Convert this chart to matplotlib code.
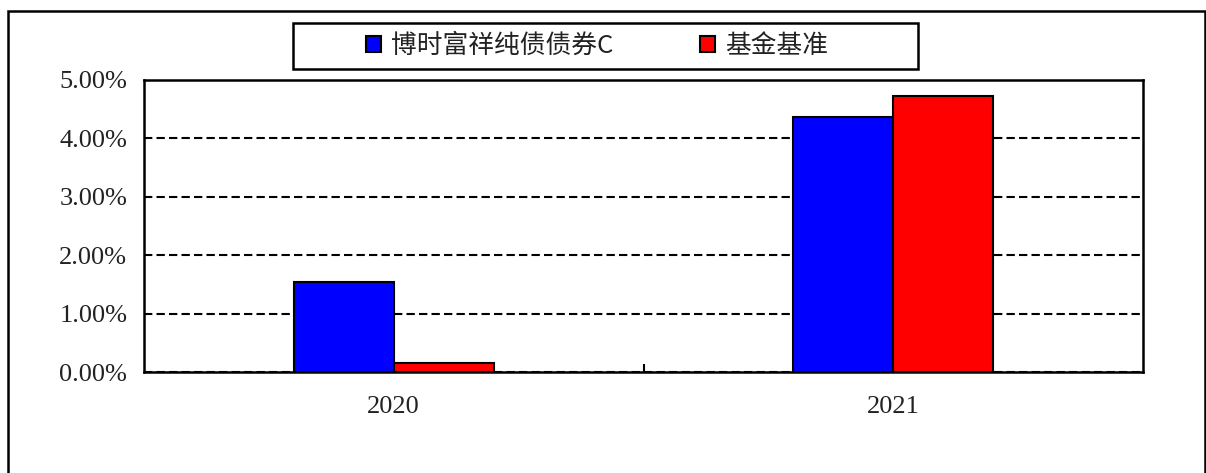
import matplotlib
matplotlib.use('Agg')
import matplotlib.pyplot as plt
from matplotlib.patches import Rectangle
import numpy as np

years = ['2020', '2021']
fund_vals = [1.54, 4.37]      # 博时富祥纯债债券C (%)
bench_vals = [0.15, 4.73]     # 基金基准 (%)
fund_name = '博时富祥纯债债券C'
bench_name = '基金基准'
y_ticks = [0, 1, 2, 3, 4, 5]

plt.rcParams['font.family'] = ['Noto Sans CJK SC', 'DejaVu Sans']

W, H = 1206, 473
fig = plt.figure(figsize=(W / 100, H / 100), dpi=100)
ax = fig.add_axes([144 / W, 1 - 372 / H, (1143 - 144) / W, (372 - 80) / H])

x = np.arange(len(years))
bw = 0.2
ax.bar(x - bw / 2, fund_vals, bw, color='#0000FF', edgecolor='black', linewidth=1.5, label=fund_name)
ax.bar(x + bw / 2, bench_vals, bw, color='#FF0000', edgecolor='black', linewidth=1.5, label=bench_name)

ax.set_xlim(-0.5, 1.5)
ax.set_ylim(0, 5)
ax.set_yticks(y_ticks)
ax.set_yticklabels(['%.2f%%' % v for v in y_ticks], family='Liberation Serif', fontsize=19)
ax.set_xticks(x)
ax.set_xticklabels(years, family='Liberation Serif', fontsize=19)
ax.set_xticks([0.5], minor=True)
ax.tick_params(axis='x', which='major', length=0, pad=17, colors='#222222')
ax.tick_params(axis='x', which='minor', direction='in', length=6, width=1.5)
ax.tick_params(axis='y', length=0, pad=12, colors='#222222')

ax.set_axisbelow(True)
ax.yaxis.grid(True, color='black', linewidth=1.5, linestyle=(0, (4, 2)))
for s in ax.spines.values():
    s.set_linewidth(1.8)
    s.set_color('black')

# legend with its own box
handles, labels = ax.get_legend_handles_labels()
leg = fig.legend(handles, labels, loc='center', bbox_to_anchor=(597 / W, 1 - 46 / H),
                 ncol=2, frameon=False, fontsize=18.5, handlelength=0.6, handleheight=0.6,
                 handletextpad=0.4, columnspacing=3.35)
for t in leg.get_texts():
    t.set_color('#222222')
fig.add_artist(Rectangle((293 / W, 1 - 69 / H), (918 - 293) / W, 46 / H,
                         transform=fig.transFigure, fill=False, edgecolor='black', linewidth=1.8))

# outer frame
fig.add_artist(Rectangle((8 / W, -0.05), (1205 - 8) / W, 1.05 - 11 / H,
                         transform=fig.transFigure, fill=False, edgecolor='black', linewidth=1.8))

fig.savefig('out.png', dpi=100)
